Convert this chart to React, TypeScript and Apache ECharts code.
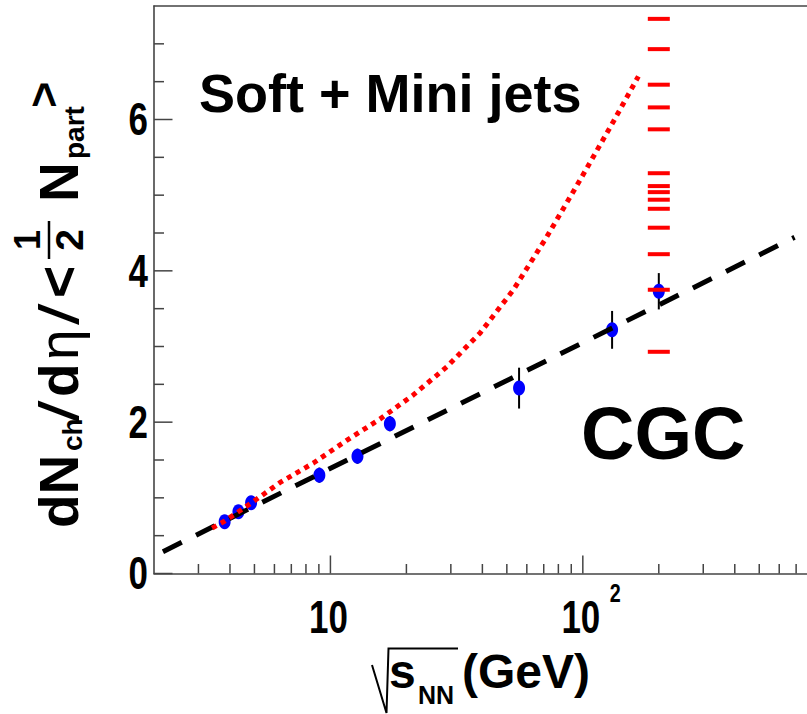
import React, { useEffect, useRef } from "react";
import * as echarts from "echarts";

// ---- data ----
const energies = [3.81, 4.32, 4.85, 9.04, 12.8, 17.2, 55.9, 130.6, 200];
const yields = [0.684, 0.816, 0.935, 1.3, 1.55, 1.98, 2.45, 3.22, 3.73];
const yieldErrors = [0.05, 0.05, 0.05, 0.1, 0.1, 0.1, 0.27, 0.25, 0.24];

const softX = [3.4, 3.8, 4.85, 6.3, 8.56, 11.6, 15.7, 21.3, 28.9, 39.2, 53.1, 72, 97.5, 132, 166];
const softY = [0.6, 0.69, 0.93, 1.2, 1.46, 1.76, 2.04, 2.36, 2.73, 3.18, 3.75, 4.45, 5.2, 5.97, 6.57];

const cgcLineX = [2.17, 690];
const cgcLineY = [0.288, 4.443];

const cgcEnergy = 200;
const cgcValues = [7.33, 6.93, 6.46, 6.16, 5.87, 5.29, 5.12, 5.04, 4.94, 4.82, 4.57, 4.22, 3.75, 2.93];

const xMajorTicks = [10, 100];
const xMinorTicks = [3, 4, 5, 6, 7, 8, 9, 20, 30, 40, 50, 60, 70, 80, 90, 200, 300, 400, 500, 600, 700];
const yMajorTicks = [0, 2, 4, 6];
const yMinorTicks = [0.5, 1, 1.5, 2.5, 3, 3.5, 4.5, 5, 5.5, 6.5, 7];

// tick labels: x labels are 10^exp
const xLabelValues = [10, 100];
const xLabelExps = ["", "2"];
const yLabelValues = [0, 2, 4, 6];

const X_MIN = 2;
const X_MAX = 773;
const Y_MIN = 0;
const Y_MAX = 7.5;

const FONT = "'Liberation Sans', Arial, Helvetica, sans-serif";
const AXIS_COLOR = "#444";
const LABEL_FS = 46;
const LABEL_SX = 0.76;

function rot(text: string, x: number, y: number, fs: number, weight = "bold", scaleX = 1) {
  return {
    type: "text",
    x,
    y,
    rotation: Math.PI / 2,
    scaleX,
    style: { text, fontSize: fs, fontWeight: weight, fontFamily: FONT, fill: "#000", align: "left", verticalAlign: "middle" },
  };
}
function rotC(text: string, x: number, y: number, fs: number) {
  return {
    type: "text",
    x,
    y,
    rotation: Math.PI / 2,
    style: { text, fontSize: fs, fontWeight: "bold", fontFamily: FONT, fill: "#000", align: "center", verticalAlign: "middle" },
  };
}
function htext(text: string, x: number, y: number, fs: number, align = "left", scaleX = 1) {
  return {
    type: "text",
    x,
    y,
    scaleX,
    style: { text, fontSize: fs, fontWeight: "bold", fontFamily: FONT, fill: "#000", align, verticalAlign: "middle" },
  };
}

export default function App() {
  const ref = useRef<HTMLDivElement>(null);
  useEffect(() => {
    if (!ref.current) return;
    const chart = echarts.init(ref.current, undefined, { renderer: "svg" });

    const tickData: any[] = [];
    xMajorTicks.forEach((v) => tickData.push([v, Y_MIN, 1, 0]));
    xMinorTicks.forEach((v) => tickData.push([v, Y_MIN, 0, 0]));
    yMajorTicks.forEach((v) => tickData.push([X_MIN, v, 1, 1]));
    yMinorTicks.forEach((v) => tickData.push([X_MIN, v, 0, 1]));

    const errData = energies.map((e, i) => [e, yields[i] - yieldErrors[i], yields[i] + yieldErrors[i]]);

    const option: any = {
      animation: false,
      backgroundColor: "#fff",
      grid: { left: 154, right: 0, top: 6, bottom: 140.5, containLabel: false },
      xAxis: [
        {
          type: "log",
          logBase: 10,
          min: X_MIN,
          max: X_MAX,
          position: "bottom",
          axisLine: { show: true, lineStyle: { color: AXIS_COLOR, width: 1.6 } },
          axisTick: { show: false },
          splitLine: { show: false },
          axisLabel: { show: false },
        },
        {
          type: "log",
          logBase: 10,
          min: X_MIN,
          max: X_MAX,
          position: "top",
          axisLine: { show: true, lineStyle: { color: AXIS_COLOR, width: 1.6 } },
          axisTick: { show: false },
          axisLabel: { show: false },
          splitLine: { show: false },
        },
      ],
      yAxis: {
        type: "value",
        min: Y_MIN,
        max: Y_MAX,
        interval: 2,
        axisLine: { show: true, lineStyle: { color: AXIS_COLOR, width: 1.6 } },
        axisTick: { show: false },
        splitLine: { show: false },
        axisLabel: { show: false },
      },
      series: [
        {
          type: "custom",
          name: "ticks",
          silent: true,
          clip: false,
          z: 1,
          encode: { x: 0, y: 1 },
          data: tickData,
          renderItem: (params: any, api: any) => {
            const p = api.coord([api.value(0), api.value(1)]);
            const major = api.value(2) === 1;
            const dir = api.value(3);
            const len = dir === 0 ? (major ? 18 : 9.5) : major ? 18.5 : 10;
            const shape =
              dir === 0
                ? { x1: p[0], y1: p[1], x2: p[0], y2: p[1] - len }
                : { x1: p[0], y1: p[1], x2: p[0] + len, y2: p[1] };
            return { type: "line", shape, style: { stroke: AXIS_COLOR, lineWidth: 1.5 } };
          },
        },
        {
          type: "custom",
          name: "errors",
          silent: true,
          z: 2,
          encode: { x: 0, y: [1, 2] },
          data: errData,
          renderItem: (params: any, api: any) => {
            const a = api.coord([api.value(0), api.value(1)]);
            const b = api.coord([api.value(0), api.value(2)]);
            return { type: "line", shape: { x1: a[0], y1: a[1], x2: b[0], y2: b[1] }, style: { stroke: "#000", lineWidth: 2 } };
          },
        },
        {
          type: "scatter",
          name: "data",
          z: 3,
          symbol: "circle",
          symbolSize: [12, 15],
          itemStyle: { color: "#0000ff", opacity: 1 },
          data: energies.map((e, i) => [e, yields[i]]),
        },
        {
          type: "line",
          name: "CGC",
          z: 4,
          showSymbol: false,
          symbol: "none",
          lineStyle: { color: "#000", width: 5, type: [21, 16], opacity: 1 },
          data: cgcLineX.map((x, i) => [x, cgcLineY[i]]),
        },
        {
          type: "line",
          name: "Soft + Mini jets",
          z: 5,
          showSymbol: false,
          symbol: "none",
          lineStyle: { color: "#ff0000", width: 5, type: [5, 5], opacity: 1 },
          data: softX.map((x, i) => [x, softY[i]]),
        },
        {
          type: "scatter",
          name: "CGC predictions",
          z: 6,
          symbol: "rect",
          symbolSize: [22, 4],
          itemStyle: { color: "#ff0000", opacity: 1 },
          data: cgcValues.map((v) => [cgcEnergy, v]),
        },
      ],
    };
    chart.setOption(option);

    // tick labels placed through the axes' own scales
    const labelEls: any[] = [];
    const yAxisPx = chart.convertToPixel({ xAxisIndex: 0 }, X_MIN) as number;
    const xAxisPy = chart.convertToPixel({ yAxisIndex: 0 }, Y_MIN) as number;
    yLabelValues.forEach((v) => {
      const py = chart.convertToPixel({ yAxisIndex: 0 }, v) as number;
      labelEls.push(htext(String(v), yAxisPx - 6, py, LABEL_FS, "right", LABEL_SX));
    });
    xLabelValues.forEach((v, i) => {
      const px = chart.convertToPixel({ xAxisIndex: 0 }, v) as number;
      labelEls.push(htext("10", px - 2, xAxisPy + 44, LABEL_FS, "center", LABEL_SX));
      if (xLabelExps[i]) {
        labelEls.push(htext(xLabelExps[i], px + 27, xAxisPy + 19, 26, "left", LABEL_SX));
      }
    });

    chart.setOption({
      graphic: [
        ...labelEls,
        htext("Soft + Mini jets", 199, 93, 54),
        htext("CGC", 581, 433, 74),
        // x-axis title
        {
          type: "polyline",
          shape: { points: [[372, 665], [386.5, 713], [388.5, 648.5], [458, 648.5]] },
          style: { stroke: "#000", lineWidth: 2, fill: null },
        },
        htext("s", 389, 671, 48),
        htext("NN", 418, 695, 25),
        htext("(GeV)", 462, 671, 48),
        // y-axis title
        rot("dN", 58.5, 528, 55),
        rot("ch", 72, 451, 28),
        rot("/", 58.5, 422, 55, "normal", 1.4),
        rot("d", 58.5, 397, 55),
        rot("η", 58.5, 360, 55, "normal"),
        rot("/", 58.5, 325, 55, "normal", 1.4),
        rot("<", 58.5, 298, 55),
        rotC("1", 27.5, 240, 36),
        rotC("2", 69, 240, 39),
        { type: "line", shape: { x1: 49, y1: 221, x2: 49, y2: 259 }, style: { stroke: "#000", lineWidth: 2.5 } },
        rot("N", 58.5, 202, 55),
        rot("part", 74, 159, 28),
        rot(">", 43, 108, 45),
      ],
    });
    return () => chart.dispose();
  }, []);
  return <div ref={ref} style={{ position: "absolute", left: 0, top: 0, width: 807, height: 714, background: "#fff" }} />;
}
